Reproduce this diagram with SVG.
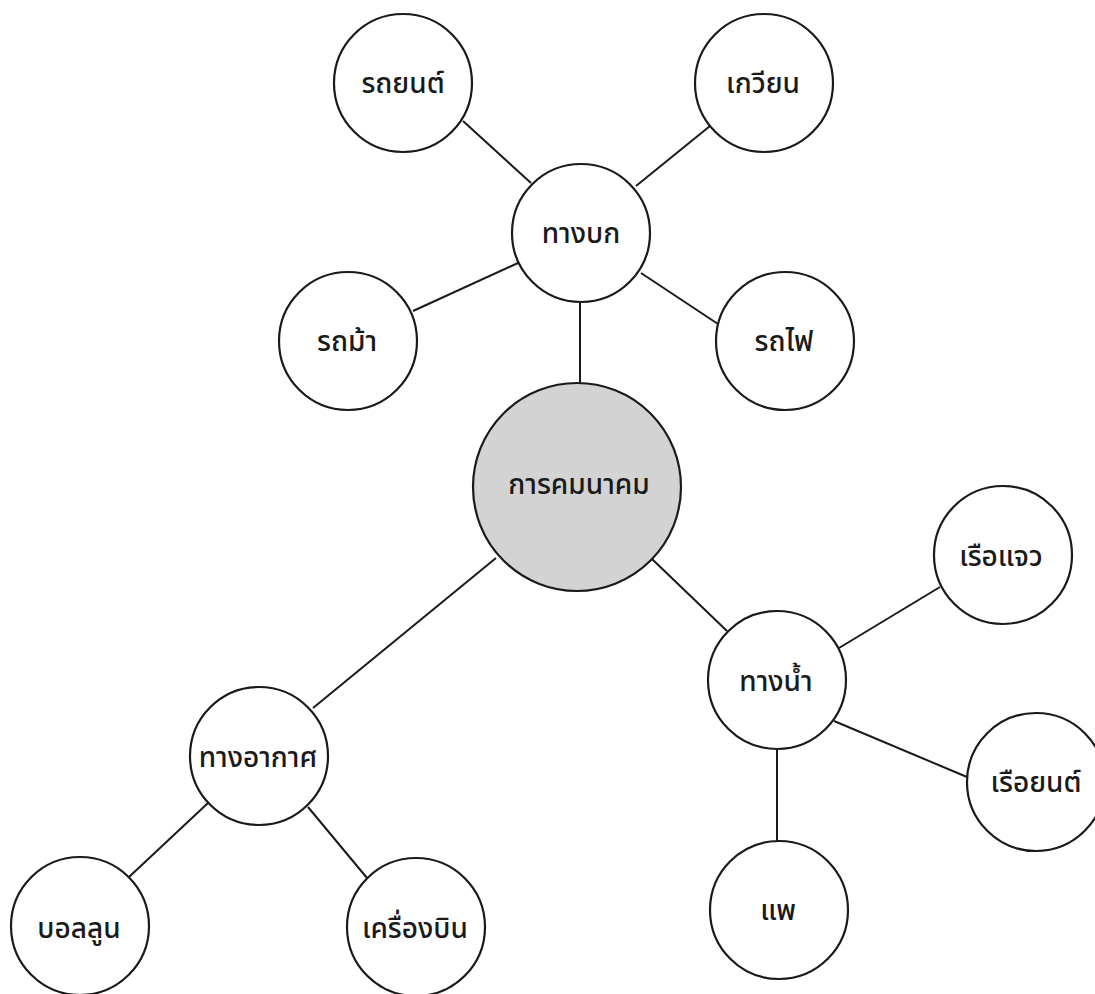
<svg xmlns="http://www.w3.org/2000/svg" width="1095" height="994" viewBox="0 0 1095 994">
<style>
.n{fill:#ffffff;stroke:#1a1a1a;stroke-width:2.2}
.c{fill:#d3d3d3;stroke:#1a1a1a;stroke-width:2.2}
.t{font-family:"Noto Sans Thai","Noto Sans","DejaVu Sans","Liberation Sans",sans-serif;font-size:28px;font-weight:500;fill:#1a1a1a;text-anchor:middle}
#connectors line{stroke:#1a1a1a;stroke-width:2}
</style>
<rect width="1095" height="994" fill="#ffffff"/>
<g id="connectors">
<line x1="580" y1="303" x2="580" y2="384"/>
<line x1="463" y1="121" x2="531" y2="183"/>
<line x1="710" y1="126" x2="636" y2="186"/>
<line x1="413" y1="311" x2="518" y2="263"/>
<line x1="718" y1="324" x2="641" y2="273"/>
<line x1="652" y1="559" x2="727" y2="631"/>
<line x1="839" y1="648" x2="940" y2="587"/>
<line x1="834" y1="721" x2="967" y2="777"/>
<line x1="777" y1="749" x2="777" y2="841"/>
<line x1="496" y1="558" x2="313" y2="708"/>
<line x1="208" y1="803" x2="129" y2="877"/>
<line x1="308" y1="807" x2="367" y2="878"/>
</g>
<g id="center"><circle class="c" cx="577" cy="487" r="104"/><text class="t" x="579" y="494">การคมนาคม</text></g>
<g id="land"><circle class="n" cx="581" cy="233" r="69"/><text class="t" x="581" y="243">ทางบก</text></g>
<g id="car"><circle class="n" cx="403" cy="83" r="69"/><text class="t" x="403" y="93">รถยนต์</text></g>
<g id="cart"><circle class="n" cx="764" cy="83" r="69"/><text class="t" x="763" y="93">เกวียน</text></g>
<g id="carriage"><circle class="n" cx="348" cy="341" r="69"/><text class="t" x="347" y="351">รถม้า</text></g>
<g id="train"><circle class="n" cx="785" cy="341" r="69"/><text class="t" x="784" y="351">รถไฟ</text></g>
<g id="water"><circle class="n" cx="777" cy="680" r="69"/><text class="t" x="776" y="691">ทางน้ำ</text></g>
<g id="rowboat"><circle class="n" cx="1003" cy="555" r="69"/><text class="t" x="1001" y="566">เรือแจว</text></g>
<g id="motorboat"><circle class="n" cx="1036" cy="782" r="69"/><text class="t" x="1036" y="792">เรือยนต์</text></g>
<g id="raft"><circle class="n" cx="779" cy="910" r="69"/><text class="t" x="778" y="920">แพ</text></g>
<g id="air"><circle class="n" cx="259" cy="756" r="69"/><text class="t" x="258" y="767">ทางอากาศ</text></g>
<g id="balloon"><circle class="n" cx="80" cy="926" r="69"/><text class="t" x="79" y="938">บอลลูน</text></g>
<g id="plane"><circle class="n" cx="416" cy="927" r="69"/><text class="t" x="415" y="938">เครื่องบิน</text></g>
</svg>
